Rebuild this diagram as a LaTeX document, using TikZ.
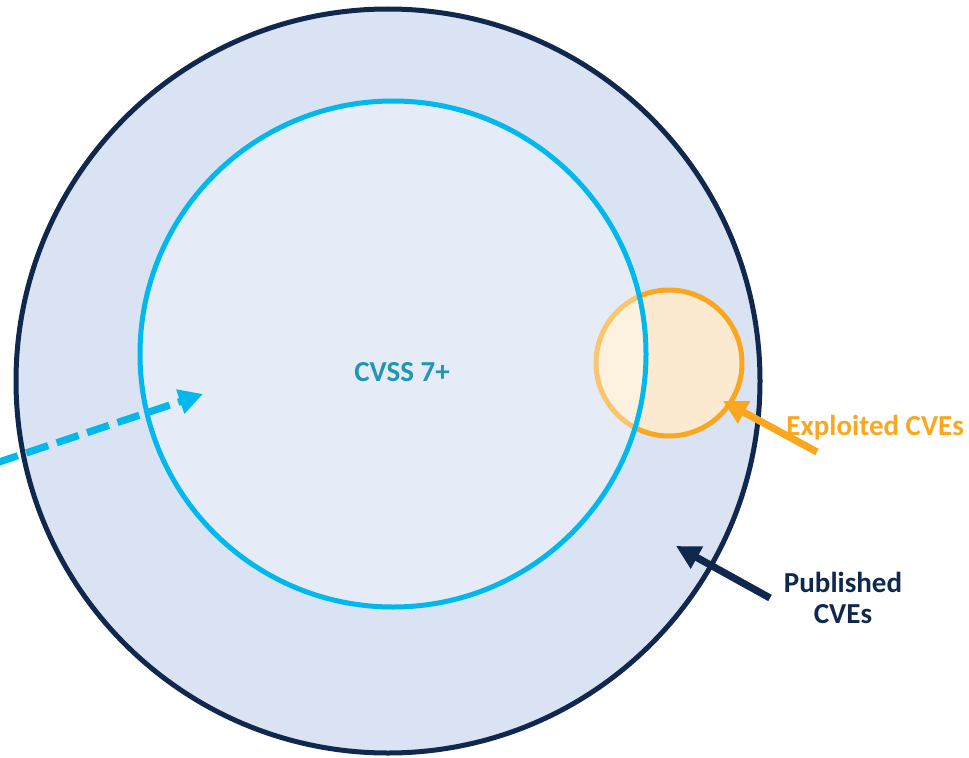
\documentclass[tikz,border=0pt]{standalone}
\usepackage{fontspec}
\setmainfont{Carlito}
\usetikzlibrary{arrows.meta}
\definecolor{navy}{HTML}{10284E}
\definecolor{paleblue}{HTML}{DAE3F3}
\definecolor{skyline}{HTML}{00B8EC}
\definecolor{amber}{HTML}{F8A71E}
\definecolor{paleamber}{HTML}{FCEAD0}
\definecolor{teal}{HTML}{2196B2}
\begin{document}
\begin{tikzpicture}[x=0.5pt,y=0.5pt]
\tikzstyle{ring} = [circle, inner sep=0pt, outer sep=0pt, line width=2.5pt]
\tikzstyle{pointer} = [line width=3.6pt, -{Triangle[length=12pt,width=12pt]}]
\tikzstyle{caption} = [font=\bfseries\fontsize{14.5}{15.5}\selectfont, align=center, inner sep=0pt]
\useasboundingbox (0,0) rectangle (969,757);
% the three sets
\node[ring, draw=navy, fill=paleblue, minimum size=372pt] (published) at (388,376) {};
\node[ring, draw=amber, fill=paleamber, minimum size=73pt] (exploited) at (669,394) {};
\node[ring, draw=skyline, fill=white, fill opacity=0.35, minimum size=253pt] (cvss) at (393,403) {};
% labels
\node[caption, text=teal] (cvsslabel) at (402,385) {CVSS 7+};
\node[caption, text=amber, anchor=west] (exploitedlabel) at (786,329) {Exploited CVEs};
\node[caption, text=navy] (publishedlabel) at (843,159) {Published\\CVEs};
% arrow ends
\coordinate (dashtail) at (-4,294);
\coordinate (dashtip) at (203,363);
\coordinate (amtail) at (817,305);
\coordinate (amtip) at (723,356);
\coordinate (navytail) at (770,159);
\coordinate (navytip) at (676,211);
\draw[pointer, skyline, dash pattern=on 11.5pt off 4.5pt] (dashtail) -- (dashtip);
\draw[pointer, amber] (amtail) -- (amtip);
\draw[pointer, navy] (navytail) -- (navytip);
\end{tikzpicture}
\end{document}
